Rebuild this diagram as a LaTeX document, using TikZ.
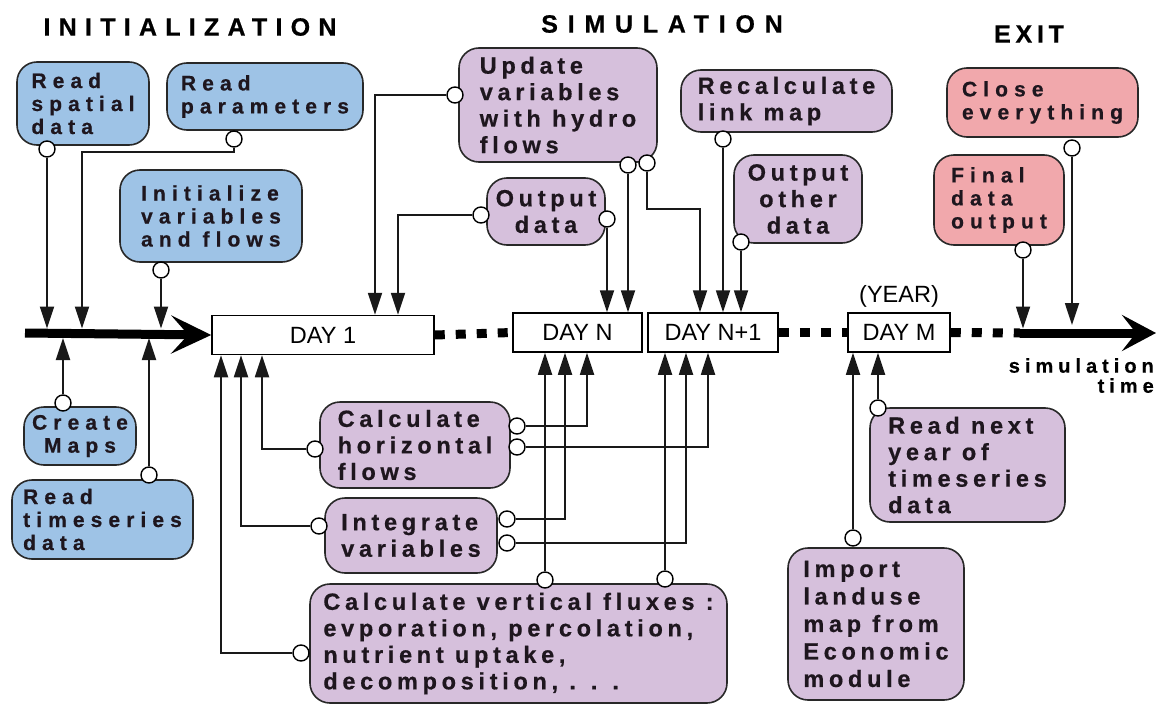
\documentclass[tikz,border=0pt]{standalone}
\usepackage{fontspec}
\setmainfont{Liberation Sans}
\newfontfamily\simfont[LetterSpace=20, FakeBold=0.6]{Liberation Sans}
\newfontfamily\initfont[LetterSpace=29, FakeBold=0.6]{Liberation Sans}
\newfontfamily\axisfont[LetterSpace=25, FakeBold=0.4]{Liberation Sans}
\newfontfamily\titlefont[LetterSpace=33, FakeBold=0.6]{Liberation Sans}
\usetikzlibrary{arrows.meta}

\definecolor{initfill}{RGB}{158,195,230}
\definecolor{simfill}{RGB}{214,192,220}
\definecolor{exitfill}{RGB}{241,168,172}
\definecolor{boxtext}{RGB}{30,22,30}
\definecolor{boxline}{RGB}{40,40,40}

\begin{document}
\begin{tikzpicture}[x=1pt,y=-1pt,
  every node/.style={inner sep=0pt},
  stagebox/.style={draw=boxline, line width=1.6pt, rounded corners=20pt,
    align=left, text=boxtext},
  initbox/.style={stagebox, fill=initfill,
    font=\initfont\bfseries\fontsize{21}{23}\selectfont},
  simbox/.style={stagebox, fill=simfill,
    font=\simfont\bfseries\fontsize{23.5}{26.5}\selectfont},
  exitbox/.style={stagebox, fill=exitfill,
    font=\initfont\bfseries\fontsize{21}{23}\selectfont},
  daybox/.style={draw=black, line width=1.5pt, fill=white,
    font=\fontsize{23.5}{26}\selectfont},
  pin/.style={circle, draw=black, line width=1.4pt, fill=white, minimum size=16pt},
  link/.style={line width=1.8pt, draw=black!90, -{Triangle[length=22pt,width=14pt]}},
  timeline/.style={line width=9pt, -{Stealth[length=40pt,width=38pt,inset=17pt]}},
  dots/.style={line width=9pt, dash pattern=on 10pt off 11pt},
  stagetitle/.style={font=\titlefont\bfseries\fontsize{25}{30}\selectfont}
]
\useasboundingbox (0,0) rectangle (1157,704);

% stage headings
\node[stagetitle] (tinit) at (190,27) {INITIALIZATION};
\node[stagetitle] (tsim) at (662,24) {\addfontfeature{LetterSpace=39}SIMULATION};
\node[stagetitle] (texit) at (1029,34) {\addfontfeature{LetterSpace=19}EXIT};

% initialization tasks
\node[initbox, minimum width=132, minimum height=83] (rsd) at (83,103.5) {Read\\spatial\\data};
\node[initbox, minimum width=196, minimum height=67] (rp) at (265,96.5) {Read\\parameters};
\node[initbox, minimum width=182, minimum height=92] (init) at (211,216) {Initialize\\variables\\and flows};
\node[initbox, minimum width=112, minimum height=58, align=center] (cm) at (80,436) {Create\\Maps};
\node[initbox, minimum width=181, minimum height=79] (rts) at (102.5,519.5) {Read\\timeseries\\data};

% simulation tasks
\node[simbox, minimum width=198, minimum height=114] (upd) at (558,105) {Update\\variables\\with hydro\\flows};
\node[simbox, minimum width=118, minimum height=67, align=center] (od) at (546,211.5) {Output\\data};
\node[simbox, minimum width=211, minimum height=62] (rlm) at (786.5,101) {Recalculate\\link map};
\node[simbox, minimum width=128, minimum height=88, align=center] (ood) at (798,199) {Output\\other\\data};
\node[simbox, minimum width=190, minimum height=86] (chf) at (415,445) {Calculate\\horizontal\\flows};
\node[simbox, minimum width=172, minimum height=75] (iv) at (411,535.5) {Integrate\\variables};
\node[simbox, minimum width=417, minimum height=119] (cvf) at (518.5,643.5) {Calculate vertical fluxes :\\evporation, percolation,\\nutrient uptake,\\decomposition, . . .};
\node[simbox, minimum width=195, minimum height=114] (rny) at (967.5,465) {Read next\\year of\\timeseries\\data};
\node[simbox, minimum width=176, minimum height=152, font=\simfont\bfseries\fontsize{23.5}{27.5}\selectfont] (ilm) at (876,624) {Import\\landuse\\map from\\Economic\\module};

% exit tasks
\node[exitbox, minimum width=191, minimum height=69] (ce) at (1042.5,102.5) {Close\\everything};
\node[exitbox, minimum width=130, minimum height=90] (fdo) at (999,200) {Final\\data\\output};

% time steps
\node[daybox, minimum width=222, minimum height=39] (day1) at (323,335) {DAY 1};
\node[daybox, minimum width=129, minimum height=39] (dayn) at (577.5,332.5) {DAY N};
\node[daybox, minimum width=130, minimum height=39] (daynp) at (713,332.5) {DAY N+1};
\node[daybox, minimum width=102, minimum height=39] (daym) at (899,332.5) {DAY M};
\node[font=\fontsize{23.5}{26}\selectfont] (year) at (899,296) {(YEAR)};
\node[font=\axisfont\bfseries\fontsize{20}{20}\selectfont, align=right, anchor=north east]
  (simtime) at (1154,358) {simulation\\time};

% time axis
\coordinate (tlstart) at (25,333);
\coordinate (tlexit) at (1020,333);
\coordinate (tlend) at (1156,333);
\coordinate (tltop) at (0,328.5);
\draw[timeline] (tlstart) -- (day1.west);
\draw[dots] (day1.east) -- (dayn.west);
\draw[dots] (daynp.east) -- (daym.west);
\draw[dots] (daym.east) -- (tlexit);
\draw[timeline, -{Stealth[length=34pt,width=36pt,inset=14pt]}] (tlexit) -- (tlend);

% connection pins
\node[pin] (pa) at (47,149) {};
\node[pin] (pb) at (234,139) {};
\node[pin] (pc) at (161,270) {};
\node[pin] (pd) at (63,403) {};
\node[pin] (pe) at (149,475) {};
\node[pin] (pf) at (455,95) {};
\node[pin] (pg) at (481,215) {};
\node[pin] (ph) at (607,219) {};
\node[pin] (pi) at (628,165) {};
\node[pin] (pj) at (647,163) {};
\node[pin] (pk) at (723,139) {};
\node[pin] (pl) at (741,242) {};
\node[pin] (pm) at (315,449) {};
\node[pin] (pn) at (517,426) {};
\node[pin] (po) at (517,447) {};
\node[pin] (pp) at (319,526) {};
\node[pin] (pq) at (507,519) {};
\node[pin] (pr) at (507,543) {};
\node[pin] (ps) at (301,653) {};
\node[pin] (pt) at (545,580) {};
\node[pin] (pu) at (665,579) {};
\node[pin] (pv) at (878,408) {};
\node[pin] (pw) at (853,538) {};
\node[pin] (px) at (1023,250) {};
\node[pin] (py) at (1072,148) {};

% initialization links
\draw[link] (pa) -- (pa |- tltop);
\draw[link] (pb) -- ++(0,13) -| (82,0 |- tltop);
\draw[link] (pc) -- (pc |- tltop);
\draw[link] (pd) -- (63,338);
\draw[link] (pe) -- (149,338);

% simulation links above the time axis
\draw[link] (pf) -| (375,0 |- day1.north);
\draw[link] (pg) -| (398,0 |- day1.north);
\draw[link] (ph) -- (ph |- dayn.north);
\draw[link] (pi) -- (pi |- dayn.north);
\draw[link] (pj) -- ++(0,46) -| (700,0 |- daynp.north);
\draw[link] (pk) -- (pk |- daynp.north);
\draw[link] (pl) -- (pl |- daynp.north);

% simulation links below the time axis
\draw[link] (pm) -| (262,0 |- day1.south);
\draw[link] (pp) -| (241,0 |- day1.south);
\draw[link] (ps) -| (221,0 |- day1.south);
\draw[link] (pn) -| (587,0 |- dayn.south);
\draw[link] (po) -| (708,0 |- daynp.south);
\draw[link] (pq) -| (565,0 |- dayn.south);
\draw[link] (pr) -| (686,0 |- daynp.south);
\draw[link] (pt) -- (pt |- dayn.south);
\draw[link] (pu) -- (pu |- daynp.south);
\draw[link] (pv) -- (pv |- daym.south);
\draw[link] (pw) -- (pw |- daym.south);

% exit links
\draw[link] (px) -- (px |- tltop);
\draw[link] (py) -- (1072,325);
\end{tikzpicture}
\end{document}
